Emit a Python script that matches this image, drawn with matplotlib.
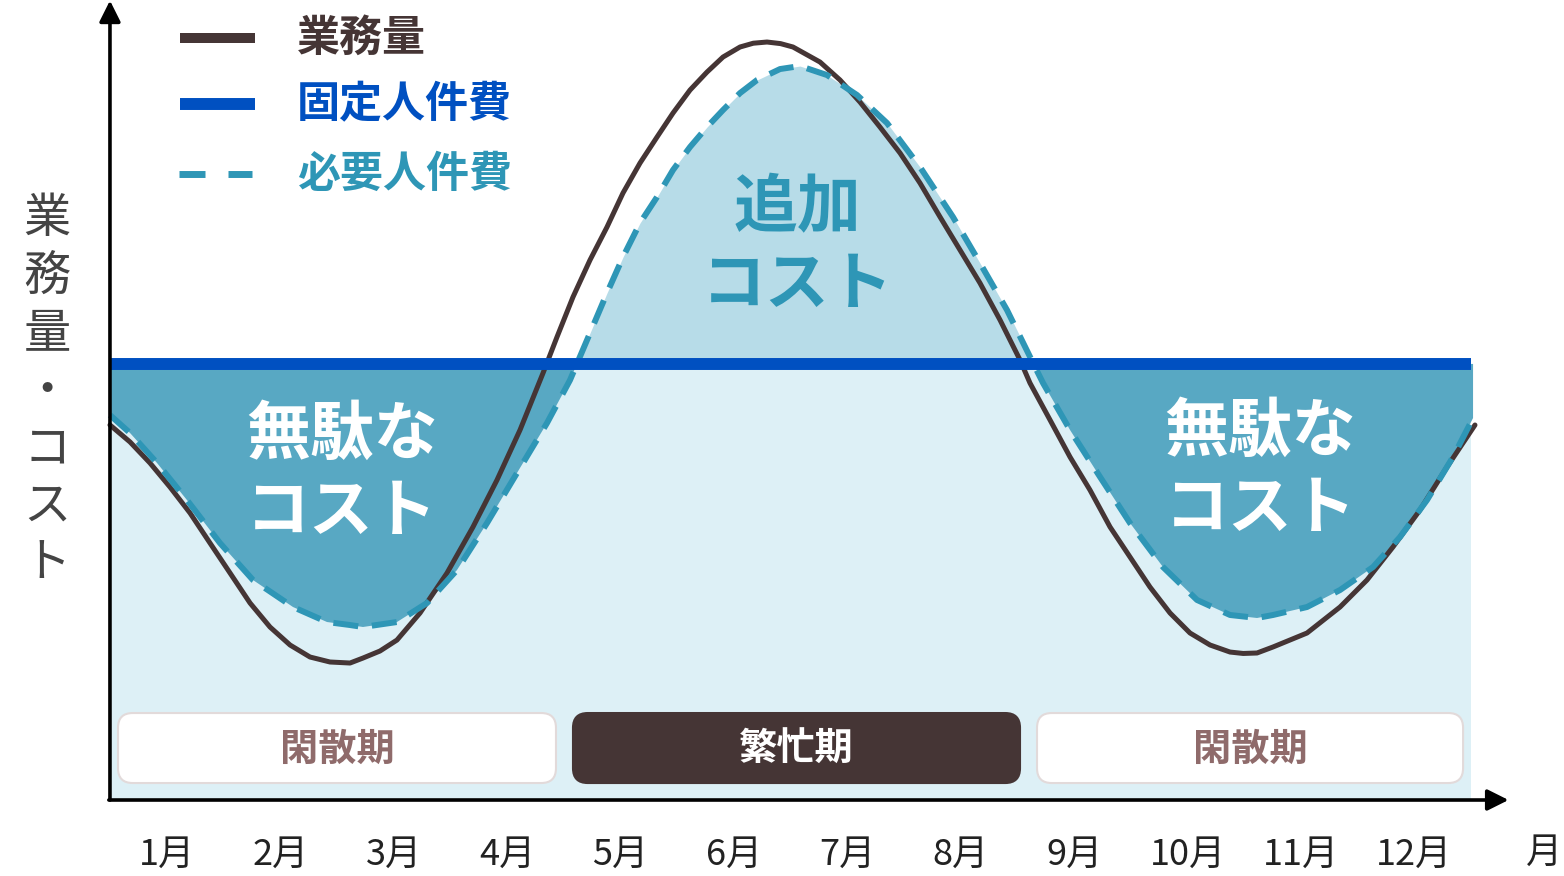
import numpy as np
import matplotlib.pyplot as plt
from matplotlib.patches import FancyBboxPatch

plt.rcParams['font.family'] = ['Noto Sans CJK JP', 'DejaVu Sans']

# ---- data (x in months, y in arbitrary units) ----
work_x = [0.497, 0.674, 0.850, 1.026, 1.203, 1.379, 1.556, 1.732, 1.908, 2.085,
          2.261, 2.437, 2.614, 2.728, 2.878, 3.028, 3.231, 3.469, 3.698, 3.910, 4.113,
          4.316, 4.439, 4.580, 4.730, 4.880, 5.021, 5.171, 5.321, 5.462, 5.612,
          5.762, 5.903, 6.053, 6.170, 6.291, 6.410, 6.520, 6.758, 6.935, 7.111, 7.287, 7.464,
          7.640, 7.817, 7.993, 8.169, 8.346, 8.522, 8.610, 8.787, 8.963, 9.139,
          9.316, 9.492, 9.668, 9.845, 10.021, 10.198, 10.374, 10.490, 10.612, 10.753, 11.053,
          11.344, 11.582, 11.811, 12.049, 12.287, 12.534]
work_y = [47.47, 45.32, 42.66, 39.62, 36.33, 32.53, 28.73, 24.94, 21.90, 19.62,
          18.10, 17.47, 17.34, 17.97, 18.86, 20.25, 23.67, 28.73, 34.56, 40.51, 46.84,
          54.05, 58.61, 63.67, 68.35, 72.53, 76.84, 80.63, 83.92, 86.96, 89.87,
          92.15, 94.05, 95.32, 95.80, 95.95, 95.75, 95.32, 93.42, 91.14, 88.35, 85.19, 81.90,
          78.10, 73.80, 69.62, 65.44, 60.76, 55.70, 52.78, 48.10, 43.42, 39.24,
          34.56, 30.76, 26.96, 23.67, 21.14, 19.62, 18.73, 18.55, 18.61, 19.37, 21.14,
          24.43, 27.85, 32.03, 36.71, 42.15, 47.47]

need_x = [0.497, 0.674, 0.912, 1.176, 1.467, 1.758, 2.111, 2.411, 2.614, 2.728,
          3.028, 3.293, 3.557, 3.822, 4.086, 4.351, 4.554, 4.730, 4.880, 5.021,
          5.171, 5.321, 5.462, 5.612, 5.762, 5.903, 6.053, 6.203, 6.406, 6.582,
          6.820, 7.085, 7.349, 7.640, 7.931, 8.169, 8.407, 8.637, 8.725, 8.963,
          9.228, 9.492, 9.783, 10.083, 10.374, 10.612, 10.753, 11.053, 11.344, 11.635,
          11.873, 12.111, 12.340, 12.517]
need_y = [48.73, 46.46, 42.66, 37.97, 32.53, 27.85, 24.43, 22.53, 22.15, 21.90,
          22.53, 24.94, 29.11, 35.06, 41.39, 47.72, 53.16, 59.11, 64.18, 68.73,
          73.04, 76.33, 79.75, 82.66, 85.19, 87.34, 89.49, 91.14, 92.53, 92.91,
          91.77, 89.24, 85.70, 80.13, 73.80, 67.97, 62.03, 55.32, 52.78, 46.84,
          40.89, 35.06, 29.49, 25.32, 23.42, 23.04, 23.42, 24.43, 26.58, 29.49,
          33.29, 37.97, 43.42, 48.35]

fixed_cost = 55.2
x_start, x_end = 0.497, 12.5

months = ['1月', '2月', '3月', '4月', '5月', '6月', '7月', '8月', '9月', '10月', '11月', '12月']
periods = [('閑散期', 0.568, 4.430), ('繁忙期', 4.580, 8.522), ('閑散期', 8.672, 12.429)]

# colours
c_work = '#453535'
c_fixed = '#0050c1'
c_need = '#2e96b6'
c_waste = '#58a8c3'
c_extra = '#b7dce8'
c_base = '#ddf0f6'

fig = plt.figure(figsize=(15.64, 8.76), dpi=100)
ax = fig.add_axes([0, 0, 1, 1])
ax.set_xlim(-0.4727, 13.319)
ax.set_ylim(-9.62, 101.27)
ax.axis('off')

nx = np.array(need_x)
ny = np.array(need_y)

# background under fixed cost
ax.fill_between([x_start, x_end], 0, fixed_cost, color=c_base, lw=0, zorder=1)
# wasted cost (fixed > needed)
ax.fill_between(nx, ny, fixed_cost, where=ny < fixed_cost, interpolate=True,
                color=c_waste, lw=0, zorder=2)
# additional cost (needed > fixed)
ax.fill_between(nx, fixed_cost, ny, where=ny > fixed_cost, interpolate=True,
                color=c_extra, lw=0, zorder=2)

ax.plot(work_x, work_y, color=c_work, lw=3.6, zorder=4,
        solid_capstyle='round', solid_joinstyle='round')
ax.plot(need_x, need_y, color=c_need, lw=4.3, dashes=(4.2, 2.3), zorder=5,
        dash_joinstyle='round')
ax.plot([x_start, x_end], [fixed_cost, fixed_cost], color=c_fixed, lw=8.6,
        solid_capstyle='butt', zorder=6)

# axes arrows
ax.annotate('', xy=(x_start, 101.2), xytext=(x_start, 0),
            arrowprops=dict(arrowstyle='-|>', lw=2.6, color='black', mutation_scale=32,
                            shrinkA=0, shrinkB=0), zorder=7)
ax.annotate('', xy=(12.83, 0), xytext=(x_start - 0.01, 0),
            arrowprops=dict(arrowstyle='-|>', lw=2.6, color='black', mutation_scale=32,
                            shrinkA=0, shrinkB=0), zorder=7)

# month labels
for i, m in enumerate(months):
    ax.text(i + 1, -6.9, m, ha='center', va='center', fontsize=26, color='#222222')
ax.text(13.14, -6.7, '月', ha='center', va='center', fontsize=26, color='#222222')

# period boxes
for label, x0, x1 in periods:
    busy = label == '繁忙期'
    box = FancyBboxPatch((x0, 2.15), x1 - x0, 8.86,
                         boxstyle='round,pad=0,rounding_size=0.13',
                         mutation_aspect=14.4,
                         facecolor=c_work if busy else 'white',
                         edgecolor=c_work if busy else '#e2dada', lw=1.5, zorder=8)
    ax.add_patch(box)
    ax.text((x0 + x1) / 2, 6.4, label, ha='center', va='center', fontsize=27.5,
            fontweight='bold', color='white' if busy else '#8f6b6b', zorder=9)

# region labels
ax.text(2.54, 41.3, '無駄な\nコスト', ha='center', va='center', fontsize=46,
        fontweight='bold', color='white', linespacing=1.22, zorder=9)
ax.text(10.64, 41.7, '無駄な\nコスト', ha='center', va='center', fontsize=46,
        fontweight='bold', color='white', linespacing=1.22, zorder=9)
ax.text(6.557, 70.0, '追加\nコスト', ha='center', va='center', fontsize=46,
        fontweight='bold', color=c_need, linespacing=1.22, zorder=9)

# y axis label (stacked vertically)
for k, ch in enumerate('業務量・コスト'):
    fig.text(47 / 1564, 1 - (219 + k * 57.5) / 876, ch, ha='center', va='center',
             fontsize=34, color='#444444')

# legend drawn by hand
leg = [('業務量', c_work, 38, 7.2, '-'), ('固定人件費', c_fixed, 104, 8.6, '-'),
       ('必要人件費', c_need, 174, 5.0, '--')]
for text, col, py, lw, ls in leg:
    yf = 1 - py / 876
    if ls == '-':
        ax.plot([180 / 1564, 255 / 1564], [yf, yf], color=col, lw=lw,
                solid_capstyle='butt', transform=ax.transAxes, zorder=9)
    else:
        for a, b in [(179, 205), (228, 252)]:
            ax.plot([a / 1564, b / 1564], [yf, yf], color=col, lw=lw,
                    solid_capstyle='butt', transform=ax.transAxes, zorder=9)
    ax.text(297 / 1564, yf, text, ha='left', va='center', fontsize=31,
            fontweight='bold', color=col, transform=ax.transAxes, zorder=9)

fig.savefig('out.png', dpi=100)
